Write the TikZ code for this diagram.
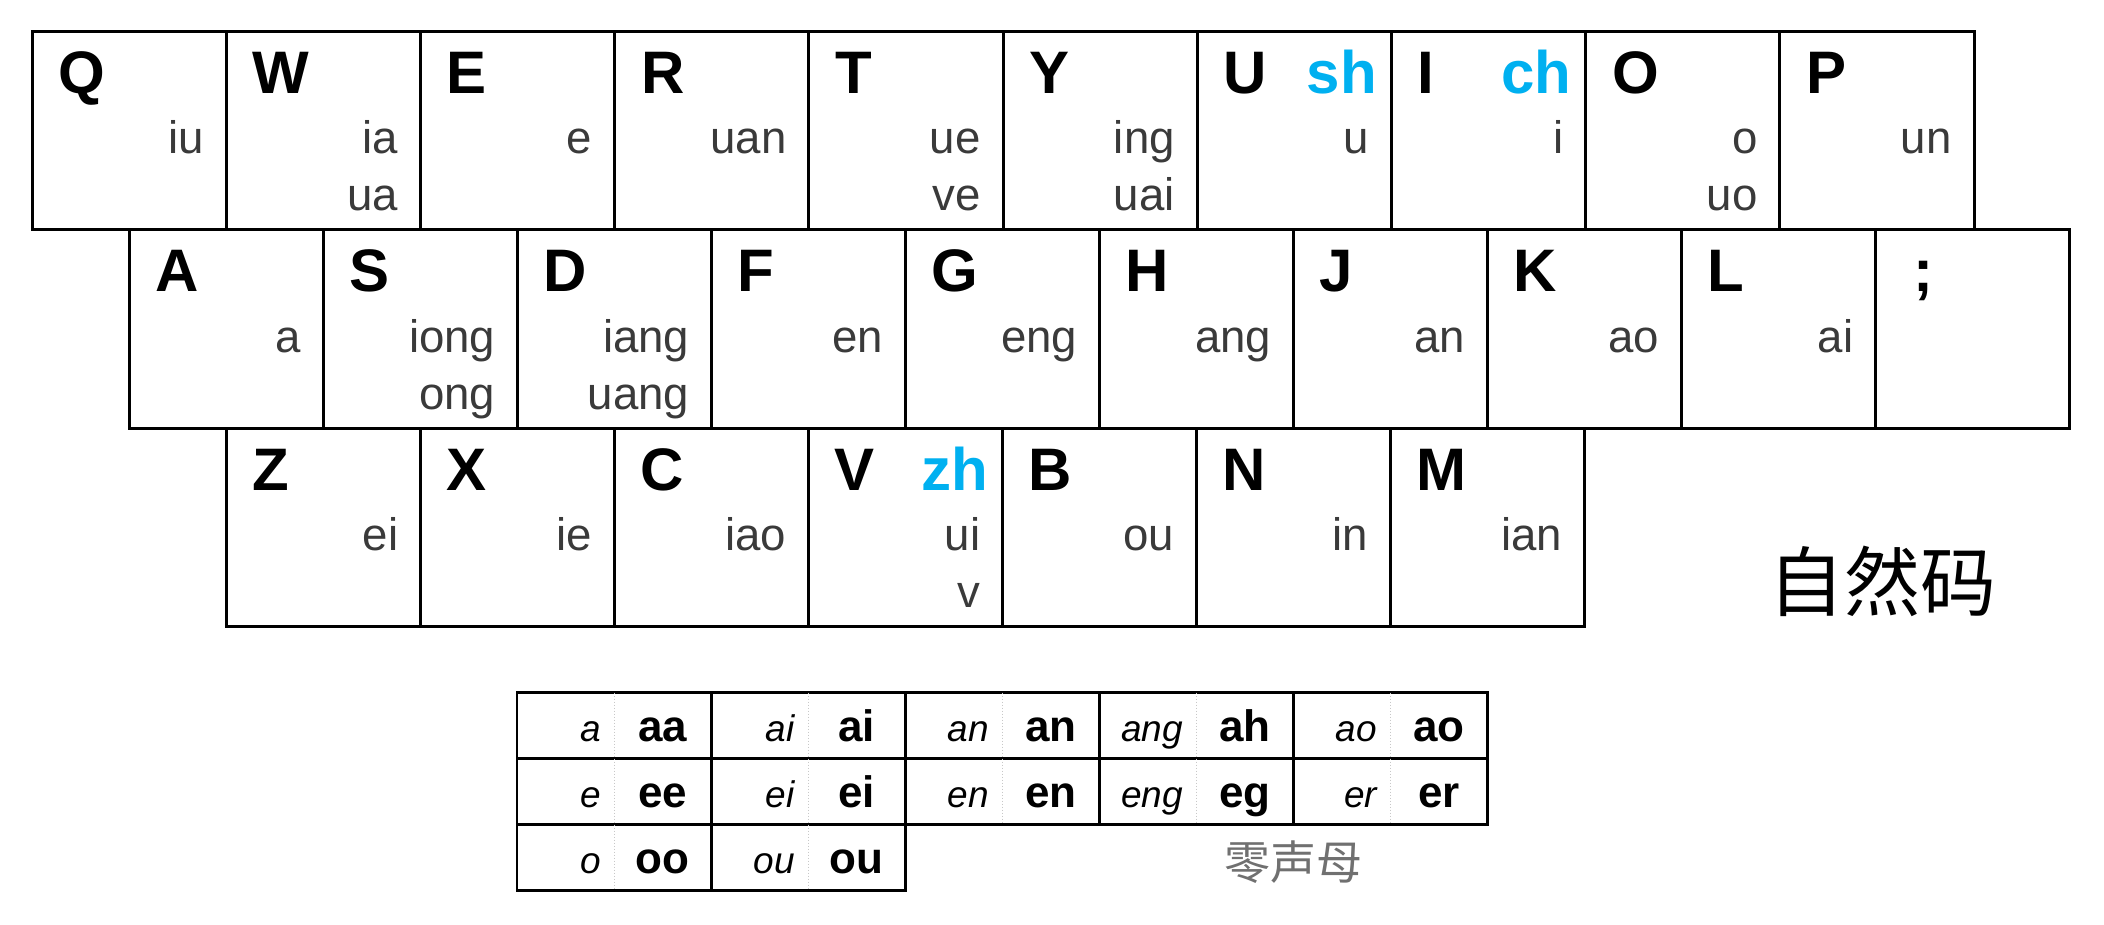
\documentclass[tikz,border=0pt]{standalone}
\usepackage{fontspec}
\setmainfont{Liberation Sans}
\newfontfamily\cjk{Noto Sans CJK SC}
\usetikzlibrary{calc}
\definecolor{initblue}{HTML}{00B0F0}
\definecolor{fingray}{HTML}{3A3A3A}
\definecolor{zerogray}{HTML}{707070}
\definecolor{dotgray}{HTML}{C8C8C8}
\tikzset{
  keybox/.style={draw, line width=1.5pt, minimum width=97.1pt, minimum height=99pt, inner sep=0pt, outer sep=0pt, anchor=north west},
  keyletter/.style={font=\fontsize{30}{30}\selectfont\bfseries, anchor=base west, inner sep=0pt},
  initialtext/.style={font=\fontsize{30}{30}\selectfont\bfseries, text=initblue, anchor=base east, inner sep=0pt},
  finaltext/.style={font=\fontsize{22.8}{22.8}\selectfont, text=fingray, anchor=base east, inner sep=0pt},
  cellbox/.style={draw, line width=1.45pt, minimum width=97.05pt, minimum height=33pt, inner sep=0pt, outer sep=0pt, anchor=north west},
  pinyintext/.style={font=\fontsize{18.5}{18.5}\selectfont\itshape, anchor=base east, inner sep=0pt},
  codetext/.style={font=\fontsize{22}{22}\selectfont\bfseries, anchor=base, inner sep=0pt},
  divider/.style={draw=dotgray, line width=0.5pt, densely dotted},
}
\newcommand\keycap[7]{%
  \node[keybox] (#1) at (#2,#3) {};
  \node[keyletter] (#1-l) at ($(#1.north west)+(26,62)$) {#4};
  \if\relax\detokenize{#5}\relax\else
    \node[initialtext] (#1-i) at ($(#1.north east)+(-14,62)$) {#5};\fi
  \if\relax\detokenize{#6}\relax\else
    \node[finaltext] (#1-f1) at ($(#1.north east)+(-22,122)$) {#6};\fi
  \if\relax\detokenize{#7}\relax\else
    \node[finaltext] (#1-f2) at ($(#1.north east)+(-22,179)$) {#7};\fi
}
\newcommand\zerocell[5]{%
  \node[cellbox] (#1) at (#2,#3) {};
  \draw[divider] (#1.north) -- (#1.south);
  \node[pinyintext] (#1-p) at ($(#1.north)+(-13,48.5)$) {#4};
  \node[codetext] (#1-c) at ($(#1.north)+(48.5,48.5)$) {#5};
}
\begin{document}
\begin{tikzpicture}[x=0.5pt, y=-0.5pt]
\useasboundingbox (0,0) rectangle (2104,925);
% row 1
\keycap{kQ}{32}{32}{Q}{}{iu}{}
\keycap{kW}{226.2}{32}{W}{}{ia}{ua}
\keycap{kE}{420.4}{32}{E}{}{e}{}
\keycap{kR}{614.6}{32}{R}{}{uan}{}
\keycap{kT}{808.8}{32}{T}{}{ue}{ve}
\keycap{kY}{1003}{32}{Y}{}{ing}{uai}
\keycap{kU}{1197.2}{32}{U}{sh}{u}{}
\keycap{kI}{1391.4}{32}{I}{ch}{i}{}
\keycap{kO}{1585.6}{32}{O}{}{o}{uo}
\keycap{kP}{1779.8}{32}{P}{}{un}{}
% row 2
\keycap{kA}{129.5}{230}{A}{}{a}{}
\keycap{kS}{323.5}{230}{S}{}{iong}{ong}
\keycap{kD}{517.5}{230}{D}{}{iang}{uang}
\keycap{kF}{711.5}{230}{F}{}{en}{}
\keycap{kG}{905.5}{230}{G}{}{eng}{}
\keycap{kH}{1099.5}{230}{H}{}{ang}{}
\keycap{kJ}{1293.5}{230}{J}{}{an}{}
\keycap{kK}{1487.5}{230}{K}{}{ao}{}
\keycap{kL}{1681.5}{230}{L}{}{ai}{}
\keycap{kSemi}{1875.5}{230}{\hspace*{6pt};}{}{}{}
% row 3
\keycap{kZ}{226.5}{428}{Z}{}{ei}{}
\keycap{kX}{420.5}{428}{X}{}{ie}{}
\keycap{kC}{614.5}{428}{C}{}{iao}{}
\keycap{kV}{808.5}{428}{V}{zh}{ui}{v}
\keycap{kB}{1002.5}{428}{B}{}{ou}{}
\keycap{kN}{1196.5}{428}{N}{}{in}{}
\keycap{kM}{1390.5}{428}{M}{}{ian}{}
% title
\node[font=\cjk\fontsize{38}{38}\selectfont, inner sep=0pt] (title) at (1882,581) {自然码};
% zero-initial table
\zerocell{z11}{517}{692.5}{a}{aa}
\zerocell{z12}{711.1}{692.5}{ai}{ai}
\zerocell{z13}{905.2}{692.5}{an}{an}
\zerocell{z14}{1099.3}{692.5}{ang}{ah}
\zerocell{z15}{1293.4}{692.5}{ao}{ao}
\zerocell{z21}{517}{758.5}{e}{ee}
\zerocell{z22}{711.1}{758.5}{ei}{ei}
\zerocell{z23}{905.2}{758.5}{en}{en}
\zerocell{z24}{1099.3}{758.5}{eng}{eg}
\zerocell{z25}{1293.4}{758.5}{er}{er}
\zerocell{z31}{517}{824.5}{o}{oo}
\zerocell{z32}{711.1}{824.5}{ou}{ou}
\node[font=\cjk\fontsize{23}{23}\selectfont, text=zerogray, inner sep=0pt] (zerolabel) at (1293,862) {零声母};
\end{tikzpicture}
\end{document}
